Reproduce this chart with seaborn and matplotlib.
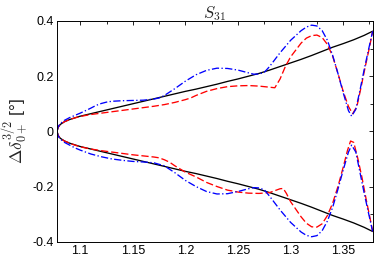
import numpy as np
import pandas as pd
import matplotlib
matplotlib.use("Agg")
import matplotlib.pyplot as plt
from matplotlib.ticker import MultipleLocator, FixedLocator
import seaborn as sns

# values (W in GeV, phase shift error in degrees)
x_black = [1.0779, 1.079, 1.081, 1.085, 1.09, 1.095, 1.10, 1.11, 1.12, 1.13, 1.14,
           1.15, 1.16, 1.17, 1.18, 1.19, 1.20, 1.21, 1.22, 1.23, 1.24, 1.25, 1.26,
           1.27, 1.28, 1.29, 1.30, 1.31, 1.32, 1.33, 1.34, 1.35, 1.36, 1.37, 1.378]
black_up = [0.0, 0.015, 0.025, 0.035, 0.043, 0.049, 0.055, 0.064, 0.073, 0.082, 0.091,
            0.100, 0.109, 0.118, 0.127, 0.136, 0.145, 0.153, 0.162, 0.171, 0.181, 0.190, 0.200,
            0.210, 0.222, 0.235, 0.248, 0.261, 0.275, 0.290, 0.305, 0.318, 0.332, 0.348, 0.363]
black_lo = [0.0, -0.015, -0.025, -0.035, -0.043, -0.049, -0.055, -0.064, -0.073, -0.082, -0.091,
            -0.100, -0.109, -0.118, -0.127, -0.136, -0.145, -0.153, -0.162, -0.171, -0.181, -0.190, -0.200,
            -0.210, -0.222, -0.235, -0.248, -0.261, -0.275, -0.290, -0.305, -0.318, -0.332, -0.348, -0.363]

x_blue_up = [1.0779, 1.079, 1.081, 1.085, 1.09, 1.095, 1.10, 1.105, 1.11, 1.115, 1.12,
             1.125, 1.13, 1.14, 1.15, 1.16, 1.17, 1.175, 1.18, 1.19, 1.20, 1.21, 1.22,
             1.23, 1.24, 1.25, 1.26, 1.265, 1.27, 1.275, 1.28, 1.29, 1.30, 1.31, 1.315,
             1.32, 1.325, 1.33, 1.335, 1.34, 1.345, 1.35, 1.355, 1.358, 1.362, 1.366,
             1.37, 1.374, 1.378]
blue_up = [0.0, 0.017, 0.028, 0.040, 0.050, 0.058, 0.066, 0.075, 0.084, 0.094, 0.101,
           0.106, 0.109, 0.111, 0.112, 0.113, 0.117, 0.121, 0.130, 0.155, 0.182, 0.205, 0.221,
           0.229, 0.228, 0.222, 0.212, 0.207, 0.208, 0.214, 0.235, 0.285, 0.330, 0.365, 0.378,
           0.385, 0.382, 0.365, 0.330, 0.275, 0.210, 0.140, 0.075, 0.055, 0.080, 0.150,
           0.225, 0.295, 0.363]

x_blue_lo = [1.0779, 1.079, 1.081, 1.085, 1.09, 1.095, 1.10, 1.11, 1.12, 1.13, 1.14,
             1.15, 1.16, 1.17, 1.18, 1.19, 1.20, 1.21, 1.22, 1.23, 1.24, 1.25, 1.26,
             1.265, 1.27, 1.275, 1.28, 1.29, 1.30, 1.31, 1.315, 1.32, 1.325, 1.33,
             1.335, 1.34, 1.345, 1.35, 1.355, 1.358, 1.362, 1.366, 1.37, 1.374, 1.378]
blue_lo = [0.0, -0.017, -0.028, -0.040, -0.050, -0.060, -0.068, -0.082, -0.092, -0.100, -0.105,
           -0.109, -0.111, -0.114, -0.125, -0.150, -0.178, -0.200, -0.218, -0.227, -0.226, -0.218, -0.208,
           -0.204, -0.205, -0.212, -0.235, -0.285, -0.330, -0.365, -0.377, -0.382, -0.378, -0.360,
           -0.325, -0.275, -0.210, -0.140, -0.075, -0.050, -0.075, -0.150, -0.225, -0.295, -0.363]

x_red_up = [1.0779, 1.079, 1.081, 1.085, 1.09, 1.095, 1.10, 1.11, 1.12, 1.13, 1.14,
            1.15, 1.16, 1.17, 1.18, 1.19, 1.20, 1.205, 1.21, 1.22, 1.23, 1.24, 1.25,
            1.26, 1.27, 1.28, 1.285, 1.29, 1.295, 1.30, 1.31, 1.315, 1.32, 1.325, 1.33,
            1.335, 1.34, 1.345, 1.35, 1.355, 1.359, 1.363, 1.367, 1.371, 1.375, 1.378]
red_up = [0.0, 0.015, 0.025, 0.035, 0.043, 0.049, 0.054, 0.061, 0.066, 0.071, 0.076,
          0.081, 0.086, 0.091, 0.097, 0.105, 0.115, 0.121, 0.130, 0.145, 0.155, 0.162, 0.165,
          0.166, 0.164, 0.160, 0.158, 0.190, 0.235, 0.270, 0.320, 0.338, 0.347, 0.349, 0.340,
          0.315, 0.272, 0.210, 0.145, 0.090, 0.064, 0.090, 0.160, 0.235, 0.305, 0.363]

x_red_lo = [1.0779, 1.079, 1.081, 1.085, 1.09, 1.095, 1.10, 1.11, 1.12, 1.13, 1.14,
            1.15, 1.16, 1.17, 1.175, 1.18, 1.185, 1.19, 1.20, 1.21, 1.22, 1.23, 1.24,
            1.25, 1.26, 1.27, 1.28, 1.285, 1.29, 1.293, 1.296, 1.30, 1.31, 1.315, 1.32,
            1.325, 1.33, 1.335, 1.34, 1.345, 1.35, 1.354, 1.357, 1.36, 1.364, 1.368,
            1.372, 1.375, 1.378]
red_lo = [0.0, -0.015, -0.025, -0.035, -0.043, -0.050, -0.056, -0.064, -0.070, -0.075, -0.080,
          -0.085, -0.089, -0.093, -0.096, -0.103, -0.112, -0.125, -0.148, -0.165, -0.185, -0.200, -0.213,
          -0.220, -0.224, -0.225, -0.222, -0.215, -0.208, -0.207, -0.225, -0.255, -0.310, -0.333, -0.346,
          -0.347, -0.335, -0.305, -0.260, -0.200, -0.130, -0.070, -0.035, -0.040, -0.100, -0.170,
          -0.250, -0.305, -0.363]

x_ticks = [1.1, 1.15, 1.2, 1.25, 1.3, 1.35]
x_tick_labels = ["1.1", "1.15", "1.2", "1.25", "1.3", "1.35"]
y_ticks = [-0.4, -0.2, 0, 0.2, 0.4]
y_tick_labels = ["-0.4", "-0.2", "0", "0.2", "0.4"]

sns.set_style("white")
plt.rcParams['font.family'] = ['Liberation Sans', 'DejaVu Sans']

fig = plt.figure(figsize=(3.74, 2.57), dpi=100)
ax = fig.add_axes([0.1524, 0.0595, 0.844, 0.8588])

# (x, y, colour, dash pattern) - dash pattern in linewidth units, None = solid
curves = [
    (x_black, black_up, 'black', None),
    (x_black, black_lo, 'black', None),
    (x_red_up, red_up, 'red', (5.5, 2.2)),
    (x_red_lo, red_lo, 'red', (5.5, 2.2)),
    (x_blue_up, blue_up, 'blue', (5.5, 1.8, 1.0, 1.8)),
    (x_blue_lo, blue_lo, 'blue', (5.5, 1.8, 1.0, 1.8)),
]
for xs, ys, col, dash in curves:
    df = pd.DataFrame({'W': xs, 'd': ys})
    sns.lineplot(data=df, x='W', y='d', ax=ax, color=col,
                 linewidth=0.95, estimator=None, sort=False)
    if dash is not None:
        ax.lines[-1].set_dashes(dash)

ax.set_xlim(1.0779, 1.378)
ax.set_ylim(-0.4, 0.4)
ax.xaxis.set_major_locator(FixedLocator(x_ticks))
ax.set_xticklabels(x_tick_labels)
ax.yaxis.set_major_locator(FixedLocator(y_ticks))
ax.set_yticklabels(y_tick_labels)
ax.xaxis.set_minor_locator(MultipleLocator(0.025))
ax.yaxis.set_minor_locator(MultipleLocator(0.1))
ax.tick_params(which='both', direction='in', top=True, right=True, labelsize=9,
               colors='black', pad=2.5)
ax.tick_params(which='major', length=3, width=0.6)
ax.tick_params(which='minor', length=2, width=0.6)
for s in ax.spines.values():
    s.set_linewidth(0.7)
    s.set_color('black')

ax.set_title(r'$S_{31}$', fontsize=12, pad=2, math_fontfamily='cm')
ax.set_xlabel('')
ax.set_ylabel(r'$\Delta\delta^{3/2}_{0+}$ [°]', fontsize=12.5, labelpad=1,
              math_fontfamily='cm')

fig.savefig('out.png', dpi=100)
